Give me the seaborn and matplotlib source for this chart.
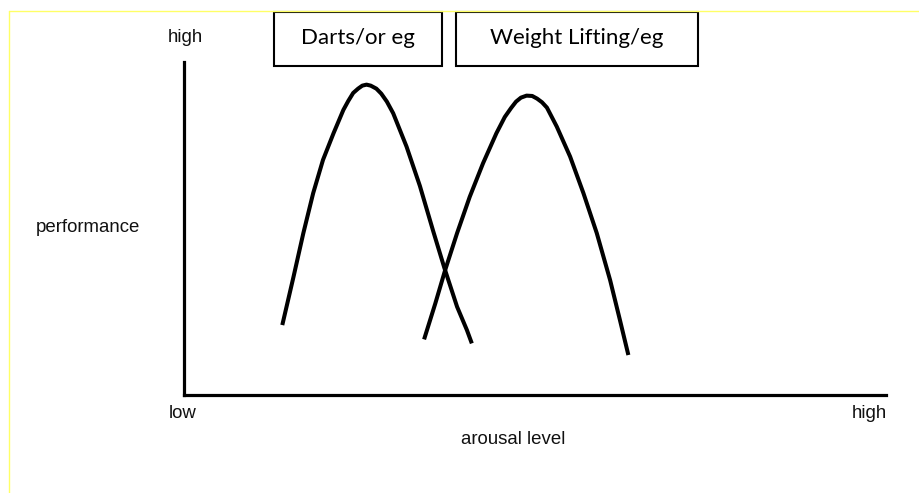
import matplotlib
matplotlib.use("Agg")
import matplotlib.pyplot as plt
from matplotlib.patches import Rectangle
from matplotlib.lines import Line2D
import seaborn as sns
import pandas as pd

# ---- data (axes are 0-100 "low"->"high") ----
darts_x = [14.0, 15.6, 17.0, 18.4, 19.8, 21.3, 22.7, 23.4, 24.1, 24.8, 25.4,
           26.0, 26.6, 27.4, 28.1, 28.9, 29.8, 31.7, 33.6, 35.5, 37.1, 38.9,
           40.3, 41.0]
darts_y = [21.0, 35.5, 48.6, 60.6, 70.6, 78.6, 85.6, 88.3, 90.7, 92.0, 92.9,
           93.2, 92.9, 92.0, 90.5, 88.1, 84.6, 74.6, 62.8, 49.2, 38.1, 26.5,
           19.5, 15.5]
lift_x = [34.2, 35.8, 37.2, 38.9, 40.7, 42.6, 44.5, 45.7, 46.6, 47.3, 48.0,
          48.8, 49.6, 50.3, 51.0, 51.7, 53.1, 55.0, 56.9, 58.8, 60.7, 62.1, 63.3]
lift_y = [16.7, 27.5, 37.5, 48.6, 59.5, 69.6, 78.6, 83.5, 86.2, 88.1, 89.3,
          89.9, 89.8, 89.0, 87.9, 86.3, 80.6, 71.6, 60.6, 48.6, 34.5, 22.5, 12.0]
box_labels = ["Darts/or eg", "Weight Lifting/eg"]
y_label = "performance"
x_label = "arousal level"
low_label = "low"
high_label = "high"

W, H = 919, 493
sns.set_theme(style="white")
plt.rcParams["font.family"] = ["Liberation Sans", "DejaVu Sans"]

fig = plt.figure(figsize=(W / 100, H / 100), dpi=100)
fig.patch.set_facecolor("white")

# axes placement (pixels -> figure fraction)
ax_l, ax_r, ax_t, ax_b = 184, 886, 62, 395
ax = fig.add_axes([ax_l / W, 1 - ax_b / H, (ax_r - ax_l) / W, (ax_b - ax_t) / H])
ax.set_facecolor("none")

df = pd.concat([
    pd.DataFrame({"x": darts_x, "y": darts_y, "curve": box_labels[0]}),
    pd.DataFrame({"x": lift_x, "y": lift_y, "curve": box_labels[1]}),
])
sns.lineplot(data=df, x="x", y="y", hue="curve", units="curve", estimator=None,
             sort=False, palette=["black", "black"], linewidth=2.9,
             legend=False, ax=ax, solid_capstyle="butt", solid_joinstyle="round")

ax.set_xlim(0, 100)
ax.set_ylim(0, 100)
ax.set_xticks([])
ax.set_yticks([])
ax.set_xlabel("")
ax.set_ylabel("")
for s in ["top", "right"]:
    ax.spines[s].set_visible(False)
for s in ["left", "bottom"]:
    ax.spines[s].set_visible(True)
    ax.spines[s].set_color("black")
    ax.spines[s].set_linewidth(2.3)


def fx(px):
    return px / W


def fy(py):
    return 1 - py / H


tkw = dict(fontsize=13.4, color="#111111", ha="center", va="center")
fig.text(fx(185), fy(38), high_label, **tkw)
fig.text(fx(88), fy(228), y_label, **tkw)
fig.text(fx(183), fy(413), low_label, **tkw)
fig.text(fx(869), fy(413), high_label, **tkw)
fig.text(fx(513), fy(440), x_label, **tkw)

# boxes with labels
boxes = [(274, 442), (456, 698)]
for (x0, x1), lab in zip(boxes, box_labels):
    y0, y1 = 12, 66
    fig.patches.append(Rectangle((fx(x0), fy(y1)), fx(x1) - fx(x0), fy(y0) - fy(y1),
                                 transform=fig.transFigure, fill=False,
                                 edgecolor="black", linewidth=1.5))
    fig.text(fx((x0 + x1) / 2), fy(38), lab, fontsize=16, color="black",
             ha="center", va="center", family=["Lato", "DejaVu Sans"])

# faint yellow frame lines
fig.lines.append(Line2D([fx(9), 1], [fy(11), fy(11)], transform=fig.transFigure,
                        color="#ffff66", linewidth=1.0))
fig.lines.append(Line2D([fx(9), fx(9)], [0, fy(11)], transform=fig.transFigure,
                        color="#ffff66", linewidth=1.0))

fig.savefig("out.png", dpi=100, facecolor="white")
